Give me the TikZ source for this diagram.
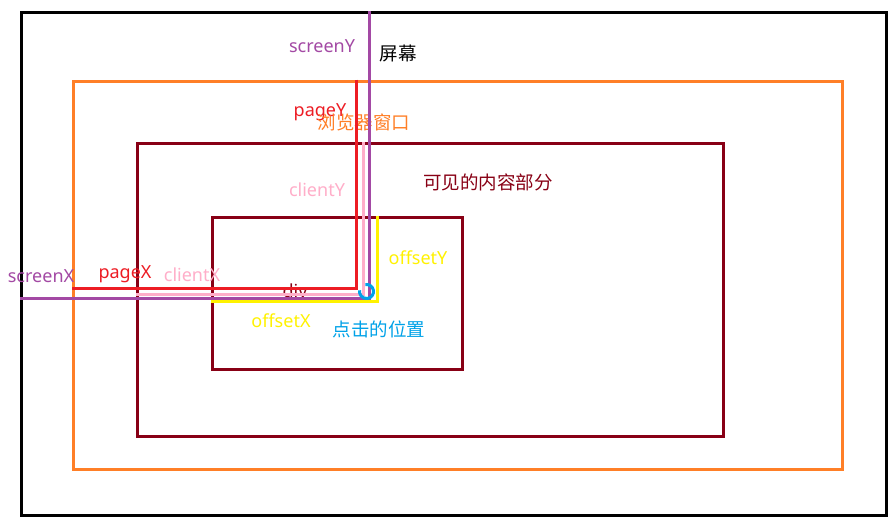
\documentclass[tikz,border=0pt]{standalone}
\usepackage{fontspec}
\setmainfont{Noto Sans}
\newfontfamily\cjk{Noto Sans CJK SC}
\definecolor{pOrange}{HTML}{FF7F27}
\definecolor{pDark}{HTML}{880015}
\definecolor{pRed}{HTML}{ED1C24}
\definecolor{pPink}{HTML}{FFAEC9}
\definecolor{pPurple}{HTML}{A349A4}
\definecolor{pYellow}{HTML}{FFF200}
\definecolor{pBlue}{HTML}{00A2E8}
\begin{document}
\begin{tikzpicture}[x=1pt,y=-1pt,
  box/.style={line width=3pt, line join=miter},
  mline/.style={line width=3pt},
  lbl/.style={inner sep=0pt, font=\fontsize{18}{20}\selectfont},
  clbl/.style={inner sep=0pt, font=\cjk\fontsize{18.5}{20}\selectfont}]
\useasboundingbox (0,0) rectangle (896,527);
\fill[white] (0,0) rectangle (896,527);
% boxes
\draw[box,black] (21.5,12.5) rectangle (886,515.5);
\draw[box,pOrange] (73,81) rectangle (842.5,469.5);
\draw[box,pDark] (137,143) rectangle (723,436);
\draw[box,pDark] (212,217) rectangle (462.5,369);
% texts
\node[lbl,text=pPurple] (tsy) at (322,46) {screenY};
\node[clbl,text=black] (tscr) at (398,53) {屏幕};
\node[lbl,text=pRed] (tpy) at (320,112) {pageY};
\node[clbl,text=pOrange] (tbw) at (364,122) {浏览器窗口};
\node[lbl,text=pPink] (tcy) at (317,190) {clientY};
\node[clbl,text=pDark] (tvis) at (488,182) {可见的内容部分};
\node[lbl,text=pYellow] (toy) at (418,258) {offsetY};
\node[lbl,text=pPurple] (tsx) at (41,276) {screenX};
\node[lbl,text=pRed] (tpx) at (125,274) {pageX};
\node[lbl,text=pPink] (tcx) at (192,275) {clientX};
\node[lbl,text=pDark] (tdiv) at (295,291) {div};
\node[lbl,text=pYellow] (tox) at (281,321) {offsetX};
\node[clbl,text=pBlue] (tclick) at (379,329) {点击的位置};
% measurement lines
\coordinate (click) at (366.5,291.5);
\coordinate (sy0) at (369,11); \coordinate (sy1) at (369,298); \coordinate (sx0) at (20,298);
\coordinate (py0) at (356.5,79.5); \coordinate (py1) at (356.5,288); \coordinate (px0) at (71.5,288);
\coordinate (cy0) at (363,141.5); \coordinate (cy1) at (363,294); \coordinate (cx0) at (135.5,294);
\coordinate (oy0) at (377,215.5); \coordinate (oy1) at (377,301); \coordinate (ox0) at (210.5,301);
\draw[mline,pYellow] (oy0) -- (oy1) -- (ox0);
\draw[mline,pPurple] (sy0) -- (sy1) -- (sx0);
\draw[mline,pPink] (cy0) -- (cy1) -- (cx0);
\draw[mline,pRed] (py0) -- (py1) -- (px0);
% click point
\draw[pBlue, line width=3pt] ([shift={(-100:7)}]click) arc[start angle=-100, end angle=190, radius=7];
\end{tikzpicture}
\end{document}
